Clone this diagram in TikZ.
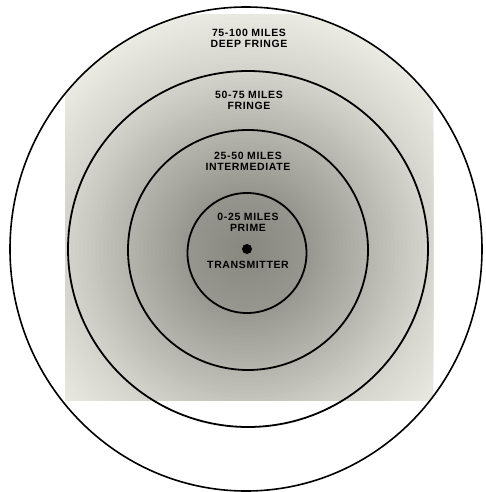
\documentclass[tikz,border=0pt]{standalone}
\usepackage{fontspec}
\newfontfamily\lab[LetterSpace=6]{Liberation Sans}
\tikzset{
  ring/.style={draw=black, line width=1.8pt},
  zonelabel/.style={font=\lab\bfseries\fontsize{10.5}{11}\selectfont, align=center, inner sep=0pt, text=black}
}
\begin{document}
\begin{tikzpicture}[x=1pt,y=-1pt]
\useasboundingbox (0,0) rectangle (486,492);
\fill[white] (0,0) rectangle (486,492);
\coordinate (c) at (246,249);
\begin{scope}
  \clip (c) ellipse [x radius=236, y radius=242];
  \clip (65,15) rectangle (433,400);
  \definecolor{bg}{RGB}{236,236,228}
  \fill[bg] (65,15) rectangle (433,400);
  \foreach \r in {240,236,...,0} {
    \pgfmathtruncatemacro\g{\r>=180 ? 212+(\r-180)*22/60 : (\r>=120 ? 180+(\r-120)*32/60 : (\r>=60 ? 150+(\r-60)*30/60 : 136+\r*14/60))}
    \pgfmathtruncatemacro\b{\g-8}
    \definecolor{tmp}{RGB}{\g,\g,\b}
    \fill[tmp] (247,250) circle (\r);
  }
\end{scope}
\draw[ring, line width=1.6pt] (c) ellipse [x radius=236, y radius=242];
\draw[ring] (248,249) ellipse [x radius=180, y radius=178];
\draw[ring] (248,250) circle (120);
\draw[ring] (247,253) ellipse [x radius=59.5, y radius=60];
\node[circle, fill=black, minimum size=10pt, inner sep=0pt] (tx) at (247,249) {};
\node[zonelabel] (l1) at (249,38) {75-100 MILES\\DEEP FRINGE};
\node[zonelabel] (l2) at (249,100) {50-75 MILES\\FRINGE};
\node[zonelabel] (l3) at (248,161) {25-50 MILES\\INTERMEDIATE};
\node[zonelabel] (l4) at (248,222) {0-25 MILES\\PRIME};
\node[zonelabel] (l5) at (248,265) {TRANSMITTER};
\end{tikzpicture}
\end{document}
